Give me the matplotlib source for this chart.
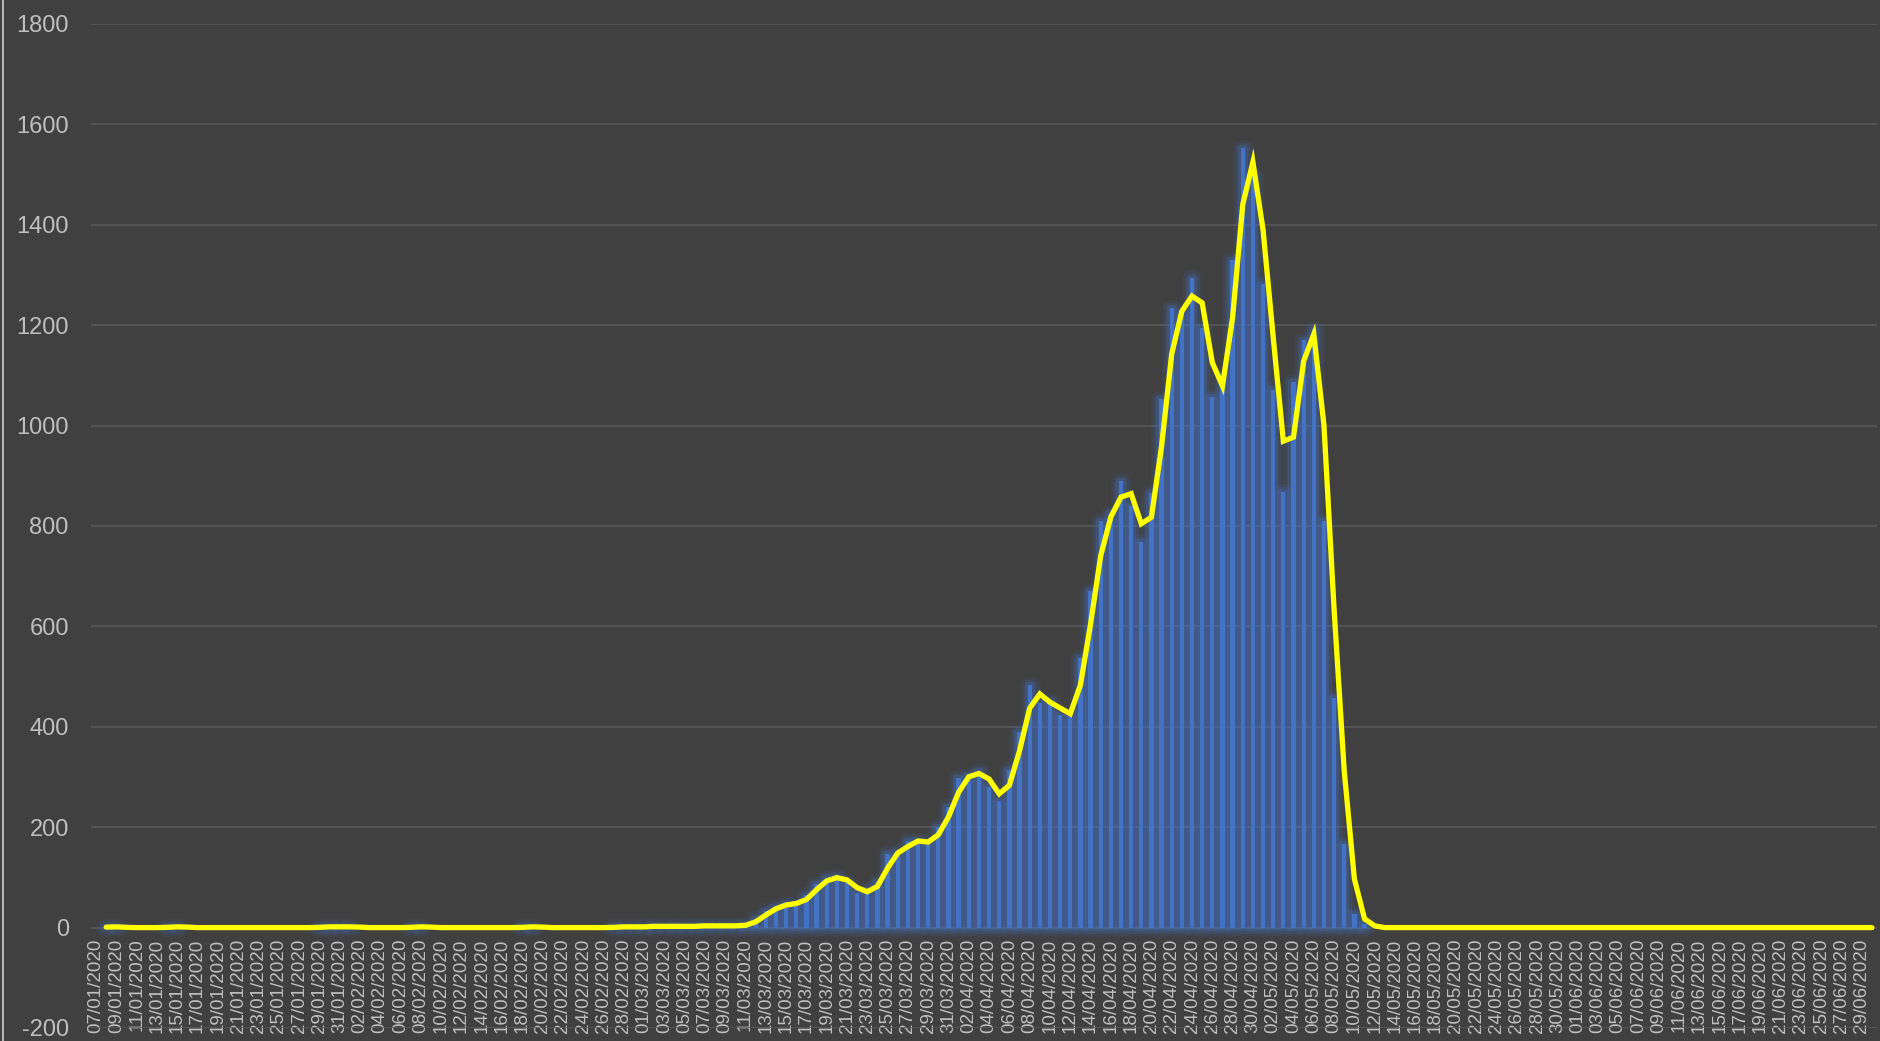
import matplotlib
matplotlib.use('Agg')
import matplotlib.pyplot as plt
import matplotlib.patheffects as pe
from matplotlib.lines import Line2D
import numpy as np
import pandas as pd

plt.rcParams['font.family'] = ['Liberation Sans', 'DejaVu Sans']
plt.rcParams['axes.unicode_minus'] = False

# ---- data ----
dates = pd.date_range('2020-01-07', '2020-06-30', freq='D')
date_labels = [d.strftime('%d/%m/%Y') for d in dates]

daily_cases = [
    # 07/01 - 31/01
    0, 2, 1, 0, 0, 0, 0, 1, 2, 0, 0, 0, 0, 0, 0, 0, 0, 0, 0, 0, 0, 0, 1, 2, 1,
    # 01/02 - 29/02
    2, 0, 0, 0, 0, 0, 1, 2, 0, 0, 0, 0, 0, 0, 0, 0, 0, 1, 2, 0, 0, 0, 0, 0, 0, 0, 1, 2, 1,
    # 01/03 - 31/03
    2, 3, 2, 3, 2, 3, 4, 3, 4, 3, 6, 17, 33, 42, 48, 48, 64, 87, 99, 100,
    90, 69, 74, 90, 147, 150, 173, 172, 169, 201, 240,
    # 01/04 - 30/04
    299, 302, 312, 280, 253, 314, 390, 484, 447, 451, 424, 428, 538, 671, 810,
    826, 889, 840, 769, 866, 1052, 1234, 1222, 1294, 1195, 1056, 1102, 1329, 1552, 1498,
    # 01/05 - 31/05
    1282, 1070, 868, 1086, 1171, 1193, 809, 458, 166, 28, 7, 0, 0, 0, 0, 0,
    0, 0, 0, 0, 0, 0, 0, 0, 0, 0, 0, 0, 0, 0, 0,
    # 01/06 - 30/06
    0, 0, 0, 0, 0, 0, 0, 0, 0, 0, 0, 0, 0, 0, 0,
    0, 0, 0, 0, 0, 0, 0, 0, 0, 0, 0, 0, 0, 0, 0,
]

y_ticks = list(range(-200, 1801, 200))

# 2-period moving average trendline
trend = pd.Series(daily_cases, dtype=float).rolling(2).mean()

# ---- figure ----
W, H = 1880, 1041
BG = '#404040'
fig = plt.figure(figsize=(W / 100, H / 100), dpi=100, facecolor=BG)
ax = fig.add_axes([91 / W, 1 - 1028 / H, (1877 - 91) / W, (1028 - 24) / H])
ax.set_facecolor(BG)

x = np.arange(len(dates))
bars = ax.bar(x, daily_cases, width=0.42, color='#4472C4', zorder=3, linewidth=0)
glow = [
    pe.Stroke(linewidth=12, foreground='#4472C4', alpha=0.09, joinstyle='round'),
    pe.Stroke(linewidth=8, foreground='#4472C4', alpha=0.14, joinstyle='round'),
    pe.Stroke(linewidth=4.5, foreground='#4472C4', alpha=0.25, joinstyle='round'),
    pe.Normal(),
]
for b, v in zip(bars, daily_cases):
    if v > 0:
        b.set_path_effects(glow)
    else:
        b.set_visible(False)

ax.plot(x, trend, color='#FFFF00', lw=3.8, solid_capstyle='round',
        solid_joinstyle='miter', zorder=5)

ax.set_xlim(-0.5, len(dates) - 0.5)
ax.set_ylim(-200, 1800)

ax.grid(axis='y', color='#595959', lw=1.1, zorder=0)
ax.set_axisbelow(True)
for s in ax.spines.values():
    s.set_visible(False)
ax.spines['bottom'].set_position(('data', 0))

ax.set_yticks(y_ticks)
ax.set_xticks(x[::2])
ax.set_xticklabels(date_labels[::2])

ax.tick_params(axis='x', length=0, pad=8, labelsize=13.5, labelcolor='#bfbfbf',
               labelrotation=90)
ax.tick_params(axis='y', length=0, pad=16, labelsize=17, labelcolor='#bfbfbf')

fig.add_artist(Line2D([2.5 / W, 2.5 / W], [0, 1], transform=fig.transFigure,
                      color='#cfcfcf', lw=1.2))

fig.savefig('out.png', dpi=100, facecolor=BG)
